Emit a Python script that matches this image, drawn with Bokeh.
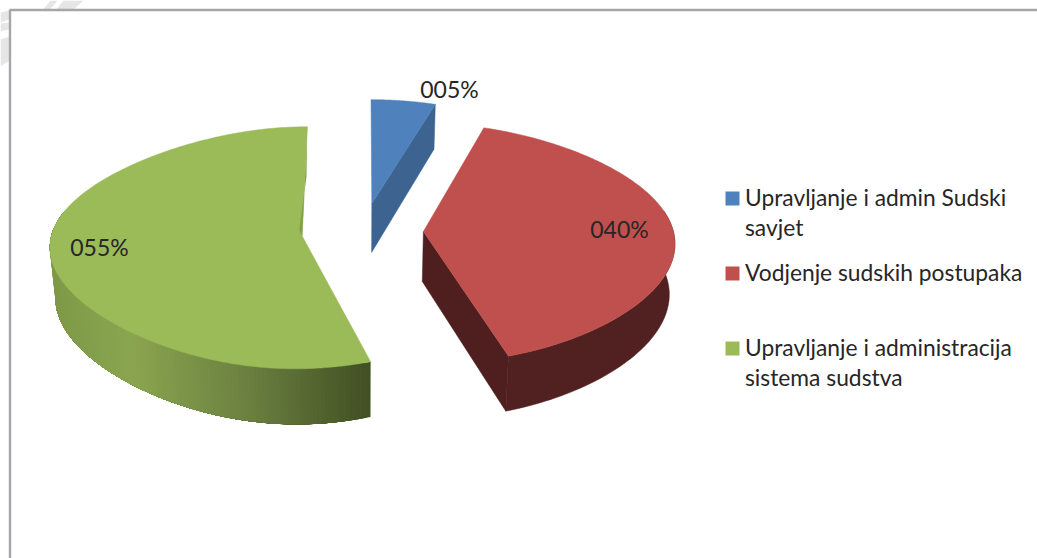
import numpy as np
from bokeh.plotting import figure
from bokeh.models import Range1d, ColumnDataSource
from bokeh.core.properties import value
from bokeh.embed import file_html
from bokeh.resources import INLINE

# data
categories = ["Upravljanje i admin Sudski\nsavjet", "Vodjenje sudskih postupaka",
              "Upravljanje i administracija\nsistema sudstva"]
shares = [5, 40, 55]
share_labels = ["005%", "040%", "055%"]
top_colors = ["#4f81bd", "#c0504d", "#9bbb59"]
side_colors = ["#3d6491", "#4f1f1f", "#6b8040"]

# projection of the tilted, exploded pie to page pixels
CX, CY, A, B, DEPTH, K, EXPL, BOTTOM = 362.0, 231.0, 250.0, 119.0, 50.0, 0.0965, 0.2435, 0.982
WARP = [0.08, 0.08, 0.14]
FONT = "Lato"

W, H = 1037, 558
p = figure(width=W, height=H, output_backend="svg", toolbar_location=None,
           x_range=Range1d(0, W), y_range=Range1d(H, 0),
           min_border=0, outline_line_color=None, background_fill_color="#ffffff")
p.axis.visible = False
p.grid.visible = False


def proj(X, Y, Z=0.0):
    X, Y = np.asarray(X, float), np.asarray(Y, float)
    s = 1.0 / (1.0 + K * Y)
    x = CX + A * X * s * (1 - (1 - BOTTOM) * Z)
    y = CY - B * Y * s + DEPTH * Z * s
    return x, y


fr = np.array(shares, float) / sum(shares) * 2 * np.pi
ends = np.cumsum(fr)
starts = ends - fr
offs = [(EXPL * np.sin((a + b) / 2), EXPL * np.cos((a + b) / 2)) for a, b in zip(starts, ends)]


def rim(i, t, Z=0.0):
    ox, oy = offs[i]
    return proj(ox + np.sin(t) * (1 - WARP[i] * np.cos(t) ** 2), oy + np.cos(t), Z)


def apex(i, Z=0.0):
    ox, oy = offs[i]
    return proj(np.array([ox]), np.array([oy]), Z)


def top_face(i):
    t = np.linspace(starts[i], ends[i], 240)
    x, y = rim(i, t)
    ax, ay = apex(i)
    return np.r_[ax, x], np.r_[ay, y]


def cut_face(i, t):
    ax0, ay0 = apex(i)
    ax1, ay1 = apex(i, 1)
    x0, y0 = rim(i, np.array([t]))
    x1, y1 = rim(i, np.array([t]), 1)
    return np.r_[ax0, x0, x1, ax1], np.r_[ay0, y0, y1, ay1]


def wall(i, t0, t1):
    t = np.linspace(t0, t1, 60)
    x0, y0 = rim(i, t)
    x1, y1 = rim(i, t, 1)
    return np.r_[x0, x1[::-1]], np.r_[y0, y1[::-1]]


# pale page decoration behind the chart
deco_x = [[42, 50, 57, 49], [55, 63, 83, 72], [0, 9, 9, 0], [0, 9, 9, 0], [0, 9, 9, 0]]
deco_y = [[10, 0, 0, 10], [10, 0, 0, 10], [12, 10, 19, 22], [23, 22, 29, 31], [39, 36, 60, 66]]
p.patches(deco_x, deco_y, fill_color="#e6e6e6", line_color=None)

# green slice wall: shaded band by band; each band runs on to the far end and the next paints over it
stop_x = [47, 130, 250, 371]
stop_rgb = np.array([[126, 153, 72], [139, 166, 80], [107, 128, 64], [66, 80, 35]], float)
edges = np.linspace(starts[2], np.radians(282), 121)
xs, ys, cols = [], [], []
for a in edges[:-1]:
    qx, qy = wall(2, a, edges[-1])
    xs.append(qx.tolist())
    ys.append(qy.tolist())
    mx = rim(2, np.array([a]))[0][0]
    c = [int(np.interp(mx, stop_x, stop_rgb[:, k])) for k in range(3)]
    cols.append("#%02x%02x%02x" % tuple(c))
p.patches("xs", "ys", source=ColumnDataSource(dict(xs=xs, ys=ys, c=cols)),
          fill_color="c", line_color=None)

gx, gy = top_face(2)
p.patch(gx, gy, fill_color=top_colors[2], line_color=top_colors[2], line_width=0.5)

# darker sliver beside the green slice's closing edge
rx, ry = rim(2, np.array([ends[2]]))
ax, ay = apex(2)
sx = np.r_[rx - 0.5, ax, ax - 3, rx - 1]
sy = np.r_[ry + 10, ay, ay - 6, ry + 50]
p.patch(sx, sy, fill_color="#84a14c", line_color=None)

# blue
bx, by = cut_face(0, ends[0])
p.patch(bx, by, fill_color=side_colors[0], line_color=side_colors[0], line_width=0.5)
tx, ty = top_face(0)
p.patch(tx, ty, fill_color=top_colors[0], line_color=top_colors[0], line_width=0.5)

# red
cx_, cy_ = cut_face(1, ends[1])
p.patch(cx_, cy_, fill_color=side_colors[1], line_color=side_colors[1], line_width=0.5)
wx, wy = wall(1, np.radians(80), ends[1])
p.patch(wx, wy, fill_color="#512020", line_color="#512020", line_width=0.5)
tx, ty = top_face(1)
p.patch(tx, ty, fill_color=top_colors[1], line_color=top_colors[1], line_width=0.5)

# frame of the chart
p.line([9.5, 9.5, W], [H, 9.5, 9.5], line_color="#a5a5aa", line_width=2.4)

# percentage labels
p.text(x=[449, 619, 99], y=[88, 228, 246], text=share_labels, text_font=value(FONT),
       text_font_size="23px", text_color="#262626", text_align="center", text_baseline="middle")

# legend
for i, (cat, yc) in enumerate(zip(categories, [198, 273, 348])):
    p.rect(x=[732], y=[yc], width=14, height=14, fill_color=top_colors[i], line_color=None)
    for j, line in enumerate(cat.split("\n")):
        p.text(x=[744.5], y=[yc - 2 + j * 30], text=[line], text_font=value(FONT), text_font_size="22.8px",
               text_color="#262626", text_align="left", text_baseline="middle")

open("out.html", "w").write(file_html(p, INLINE))
